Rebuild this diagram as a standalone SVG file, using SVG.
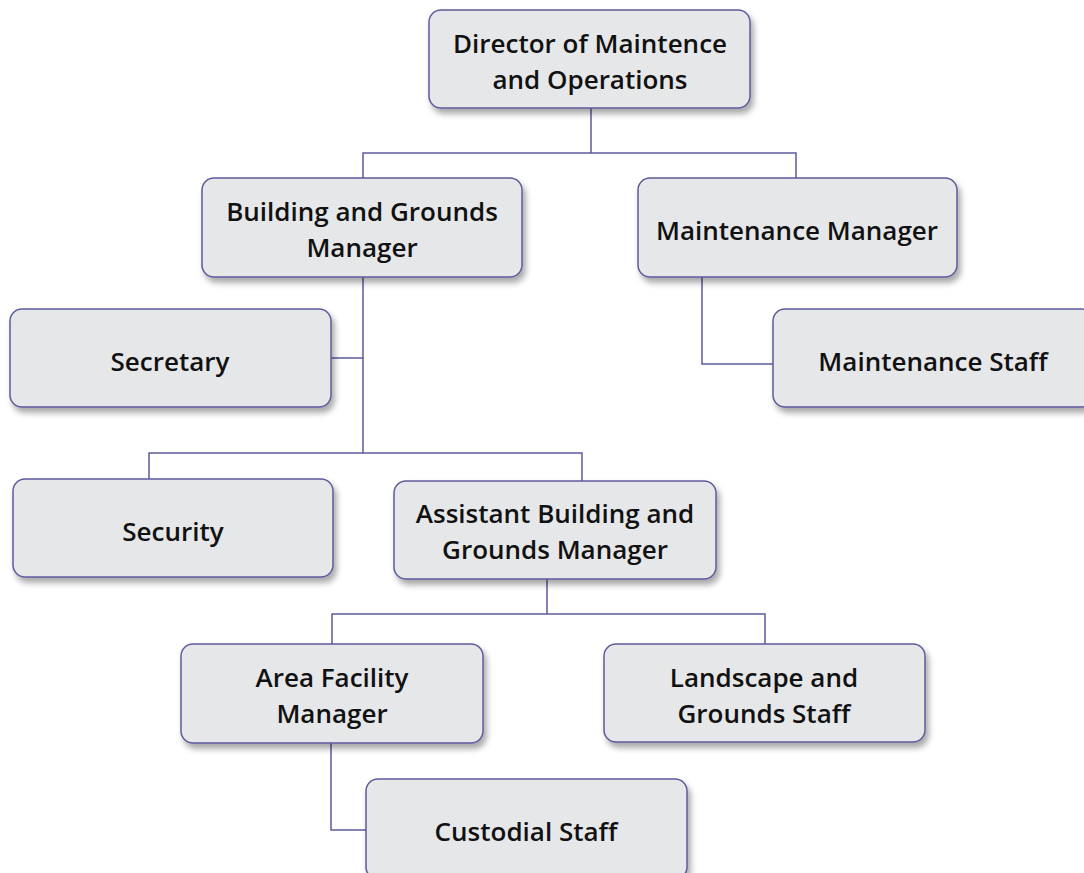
<svg xmlns="http://www.w3.org/2000/svg" width="1084" height="873" viewBox="0 0 1084 873">
  <defs>
    <filter id="drop" x="-10%" y="-10%" width="125%" height="140%">
      <feGaussianBlur in="SourceAlpha" stdDeviation="3"/>
      <feOffset dx="3" dy="5" result="b"/>
      <feComponentTransfer><feFuncA type="linear" slope="0.35"/></feComponentTransfer>
      <feMerge><feMergeNode/><feMergeNode in="SourceGraphic"/></feMerge>
    </filter>
    <style>
      .box { fill: #e6e7e9; stroke: #5d5b9c; stroke-width: 1.5; filter: url(#drop); }
      .lbl { font-family: "Open Sans", "Liberation Sans", sans-serif; font-weight: 600; font-size: 26px; fill: #111111; text-anchor: middle; font-variant-ligatures: none; }
      .conn { fill: none; stroke: #5d5b9c; stroke-width: 1.5; }
    </style>
  </defs>
  <rect width="1084" height="873" fill="#ffffff"/>

  <!-- reporting lines -->
  <g id="connectors">
    <path class="conn" d="M591,108 V153 M363,178 V153 H796 V178"/>
    <path class="conn" d="M363,277 V453 M331,358 H363 M149,479 V453 H582 V481"/>
    <path class="conn" d="M547,579 V614 M332,644 V614 H765 V644"/>
    <path class="conn" d="M331,743 V830 H366"/>
    <path class="conn" d="M702,277 V364 H773"/>
  </g>

  <g id="director">
    <rect class="box" x="429" y="10" width="321" height="98" rx="12"/>
    <text class="lbl" x="590" y="53">Director of Maintence</text>
    <text class="lbl" x="590" y="89">and Operations</text>
  </g>

  <g id="building-grounds-manager">
    <rect class="box" x="202" y="178" width="320" height="99" rx="12"/>
    <text class="lbl" x="362" y="221">Building and Grounds</text>
    <text class="lbl" x="362" y="257">Manager</text>
  </g>

  <g id="maintenance-manager">
    <rect class="box" x="638" y="178" width="319" height="99" rx="12"/>
    <text class="lbl" x="797" y="240">Maintenance Manager</text>
  </g>

  <g id="secretary">
    <rect class="box" x="10" y="309" width="321" height="98" rx="12"/>
    <text class="lbl" x="170" y="371">Secretary</text>
  </g>

  <g id="maintenance-staff">
    <rect class="box" x="773" y="309" width="321" height="98" rx="12"/>
    <text class="lbl" x="933" y="371">Maintenance Staff</text>
  </g>

  <g id="security">
    <rect class="box" x="13" y="479" width="320" height="98" rx="12"/>
    <text class="lbl" x="173" y="541">Security</text>
  </g>

  <g id="assistant-manager">
    <rect class="box" x="394" y="481" width="322" height="98" rx="12"/>
    <text class="lbl" x="555" y="523">Assistant Building and</text>
    <text class="lbl" x="555" y="559">Grounds Manager</text>
  </g>

  <g id="area-facility-manager">
    <rect class="box" x="181" y="644" width="302" height="99" rx="12"/>
    <text class="lbl" x="332" y="687">Area Facility</text>
    <text class="lbl" x="332" y="723">Manager</text>
  </g>

  <g id="landscape-staff">
    <rect class="box" x="604" y="644" width="321" height="98" rx="12"/>
    <text class="lbl" x="764" y="687">Landscape and</text>
    <text class="lbl" x="764" y="723">Grounds Staff</text>
  </g>

  <g id="custodial-staff">
    <rect class="box" x="366" y="779" width="321" height="100" rx="12"/>
    <text class="lbl" x="526" y="841">Custodial Staff</text>
  </g>
</svg>
